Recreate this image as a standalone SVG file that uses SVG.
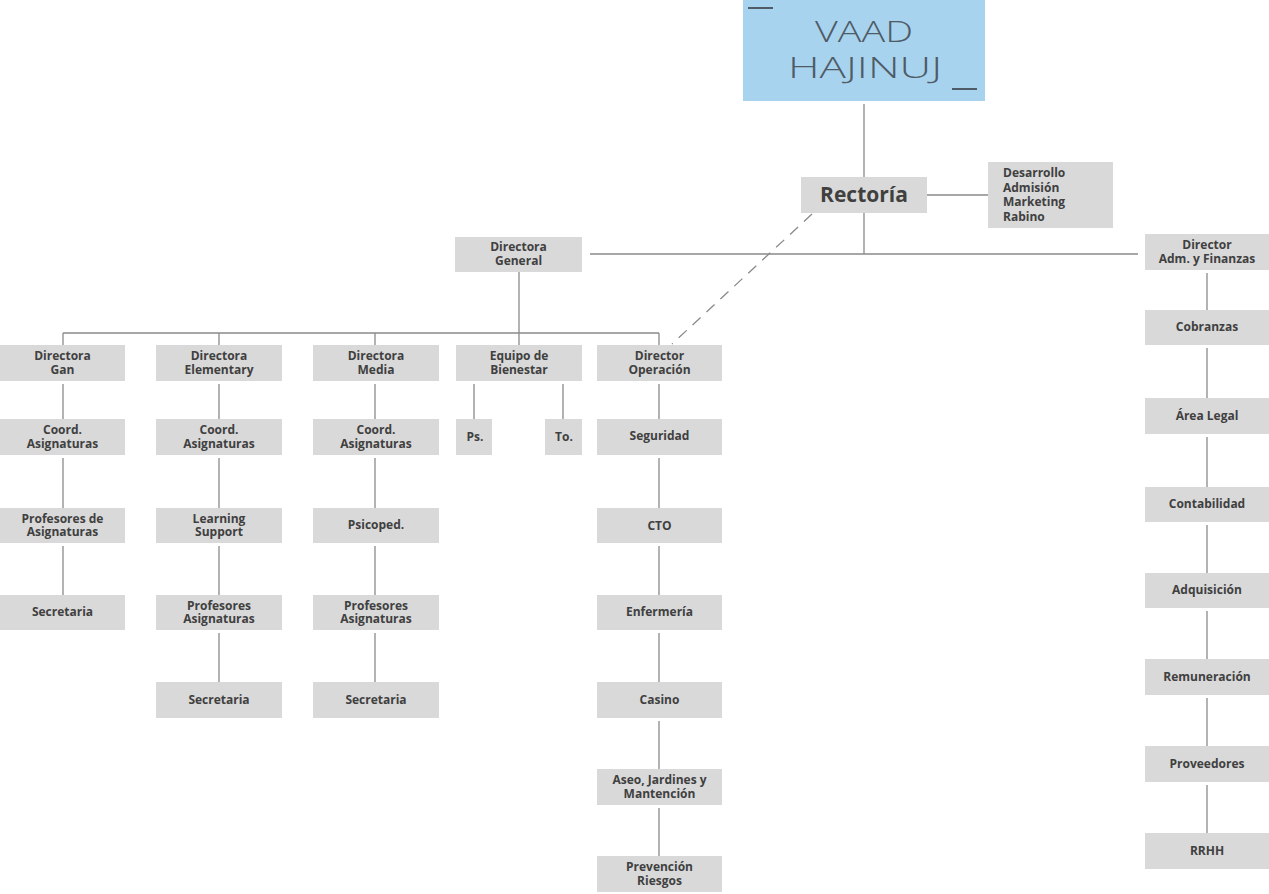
<svg xmlns="http://www.w3.org/2000/svg" width="1269" height="894" viewBox="0 0 1269 894">
<style>
.box{fill:#d9d9d9}
.t{font-family:"Open Sans","Liberation Sans",sans-serif;font-weight:700;font-size:12px;fill:#404040;text-anchor:middle}
.ln{stroke:#8a8a8a;stroke-width:1.3;fill:none}
.dash{stroke:#8a8a8a;stroke-width:1.3;fill:none;stroke-dasharray:11 8}
.big{font-family:"Open Sans","Liberation Sans",sans-serif;font-weight:300;font-size:30px;fill:#4f5b66;text-anchor:middle}
</style>
<rect width="1269" height="894" fill="#ffffff"/>
<g id="connectors">
<path class="ln" d="M864 104V177M927 195H988M864 213V254M590 254H1138M519 272V345M63 333H659M63 333V345M219 333V345M375 333V345M659 333V345"/>
<path class="ln" d="M63 384V419M63 458V508M63 546V595"/>
<path class="ln" d="M219 384V419M219 458V508M219 546V595M219 633V682"/>
<path class="ln" d="M375 384V419M375 458V508M375 546V595M375 633V682"/>
<path class="ln" d="M474 384V419M563 384V419"/>
<path class="ln" d="M659 384V419M659 458V508M659 546V595M659 633V682M659 721V769M659 808V856"/>
<path class="ln" d="M1207 273V310M1207 348V398M1207 437V487M1207 525V573M1207 611V659M1207 698V746M1207 785V833"/>
<path class="dash" d="M812 214L672 344"/>
</g>
<g id="vaad">
<rect x="743" y="0" width="242" height="101" fill="#a8d3ee"/>
<path d="M748 8H773M952 89H977" stroke="#4f5b66" stroke-width="2"/>
<text class="big" x="864" y="42" textLength="98" lengthAdjust="spacingAndGlyphs">VAAD</text>
<text class="big" x="865" y="78" textLength="154" lengthAdjust="spacingAndGlyphs">HAJINUJ</text>
</g>
<g id="rectoria"><rect class="box" x="801" y="177" width="126" height="36"/><text class="t" x="864" y="202" style="font-size:21px" fill="#3d3d3d">Rectoría</text></g>
<g id="desarrollo"><rect class="box" x="988" y="162" width="125" height="66"/>
<text class="t" style="text-anchor:start;font-size:12px"><tspan x="1003" y="177">Desarrollo</tspan><tspan x="1003" y="191.5">Admisión</tspan><tspan x="1003" y="206">Marketing</tspan><tspan x="1003" y="220.5">Rabino</tspan></text></g>
<g id="dir-general"><rect class="box" x="455" y="237" width="127" height="35"/><text class="t"><tspan x="518.5" y="251">Directora</tspan><tspan x="518.5" y="264.5">General</tspan></text></g>
<g id="dir-adm"><rect class="box" x="1145" y="234" width="125" height="36"/><text class="t"><tspan x="1207" y="249">Director</tspan><tspan x="1207" y="262.5">Adm. y Finanzas</tspan></text></g>

<g id="gan"><rect class="box" x="0" y="345" width="125" height="36"/><text class="t"><tspan x="62.5" y="360">Directora</tspan><tspan x="62.5" y="373.5">Gan</tspan></text></g>
<g id="gan-coord"><rect class="box" x="0" y="419" width="125" height="36"/><text class="t"><tspan x="62.5" y="434">Coord.</tspan><tspan x="62.5" y="447.5">Asignaturas</tspan></text></g>
<g id="gan-prof"><rect class="box" x="0" y="508" width="125" height="35"/><text class="t"><tspan x="62.5" y="522.5">Profesores de</tspan><tspan x="62.5" y="536">Asignaturas</tspan></text></g>
<g id="gan-sec"><rect class="box" x="0" y="595" width="125" height="35"/><text class="t" x="62.5" y="616">Secretaria</text></g>

<g id="elem"><rect class="box" x="156" y="345" width="126" height="36"/><text class="t"><tspan x="219" y="360">Directora</tspan><tspan x="219" y="373.5">Elementary</tspan></text></g>
<g id="elem-coord"><rect class="box" x="156" y="419" width="126" height="36"/><text class="t"><tspan x="219" y="434">Coord.</tspan><tspan x="219" y="447.5">Asignaturas</tspan></text></g>
<g id="elem-ls"><rect class="box" x="156" y="508" width="126" height="35"/><text class="t"><tspan x="219" y="522.5">Learning</tspan><tspan x="219" y="536">Support</tspan></text></g>
<g id="elem-prof"><rect class="box" x="156" y="595" width="126" height="35"/><text class="t"><tspan x="219" y="609.5">Profesores</tspan><tspan x="219" y="623">Asignaturas</tspan></text></g>
<g id="elem-sec"><rect class="box" x="156" y="682" width="126" height="36"/><text class="t" x="219" y="704">Secretaria</text></g>

<g id="media"><rect class="box" x="313" y="345" width="126" height="36"/><text class="t"><tspan x="376" y="360">Directora</tspan><tspan x="376" y="373.5">Media</tspan></text></g>
<g id="media-coord"><rect class="box" x="313" y="419" width="126" height="36"/><text class="t"><tspan x="376" y="434">Coord.</tspan><tspan x="376" y="447.5">Asignaturas</tspan></text></g>
<g id="media-psi"><rect class="box" x="313" y="508" width="126" height="35"/><text class="t" x="376" y="529">Psicoped.</text></g>
<g id="media-prof"><rect class="box" x="313" y="595" width="126" height="35"/><text class="t"><tspan x="376" y="609.5">Profesores</tspan><tspan x="376" y="623">Asignaturas</tspan></text></g>
<g id="media-sec"><rect class="box" x="313" y="682" width="126" height="36"/><text class="t" x="376" y="704">Secretaria</text></g>

<g id="bienestar"><rect class="box" x="456" y="345" width="126" height="36"/><text class="t"><tspan x="519" y="360">Equipo de</tspan><tspan x="519" y="373.5">Bienestar</tspan></text></g>
<g id="ps"><rect class="box" x="456" y="419" width="36" height="36"/><text class="t" x="475" y="441">Ps.</text></g>
<g id="to"><rect class="box" x="545" y="419" width="37" height="36"/><text class="t" x="564" y="441">To.</text></g>

<g id="operacion"><rect class="box" x="597" y="345" width="125" height="36"/><text class="t"><tspan x="659.5" y="360">Director</tspan><tspan x="659.5" y="373.5">Operación</tspan></text></g>
<g id="seguridad"><rect class="box" x="597" y="419" width="125" height="36"/><text class="t" x="659.5" y="440">Seguridad</text></g>
<g id="cto"><rect class="box" x="597" y="508" width="125" height="35"/><text class="t" x="659.5" y="530">CTO</text></g>
<g id="enfermeria"><rect class="box" x="597" y="595" width="125" height="35"/><text class="t" x="659.5" y="616">Enfermería</text></g>
<g id="casino"><rect class="box" x="597" y="682" width="125" height="36"/><text class="t" x="659.5" y="704">Casino</text></g>
<g id="aseo"><rect class="box" x="597" y="769" width="125" height="36"/><text class="t"><tspan x="659.5" y="784">Aseo, Jardines y</tspan><tspan x="659.5" y="797.5">Mantención</tspan></text></g>
<g id="prevencion"><rect class="box" x="597" y="856" width="125" height="36"/><text class="t"><tspan x="659.5" y="871">Prevención</tspan><tspan x="659.5" y="884.5">Riesgos</tspan></text></g>

<g id="cobranzas"><rect class="box" x="1145" y="310" width="125" height="35"/><text class="t" x="1207" y="331">Cobranzas</text></g>
<g id="legal"><rect class="box" x="1145" y="398" width="125" height="36"/><text class="t" x="1207" y="420">Área Legal</text></g>
<g id="contabilidad"><rect class="box" x="1145" y="487" width="125" height="35"/><text class="t" x="1207" y="508">Contabilidad</text></g>
<g id="adquisicion"><rect class="box" x="1145" y="573" width="125" height="35"/><text class="t" x="1207" y="594">Adquisición</text></g>
<g id="remuneracion"><rect class="box" x="1145" y="659" width="125" height="36"/><text class="t" x="1207" y="681">Remuneración</text></g>
<g id="proveedores"><rect class="box" x="1145" y="746" width="125" height="36"/><text class="t" x="1207" y="768">Proveedores</text></g>
<g id="rrhh"><rect class="box" x="1145" y="833" width="125" height="36"/><text class="t" x="1207" y="855">RRHH</text></g>
</svg>
